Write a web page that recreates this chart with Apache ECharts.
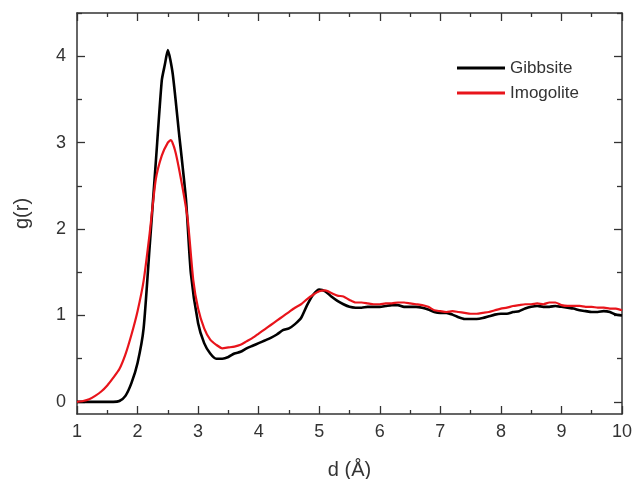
<!DOCTYPE html>
<html>
<head>
<meta charset="utf-8">
<script src="https://cdn.jsdelivr.net/npm/echarts@6/dist/echarts.min.js"></script>
<style>html,body{margin:0;padding:0;background:#fff;}#c{width:632px;height:479px;}</style>
</head>
<body>
<div id="c"></div>
<script>
const gibbsiteX = [1.0,1.1,1.2,1.3,1.4,1.5,1.6,1.7,1.8,1.9,2.0,2.1,2.2,2.3,2.4,2.45,2.5,2.58,2.68,2.8,2.88,3.0,3.1,3.2,3.3,3.4,3.5,3.6,3.7,3.8,3.9,4.0,4.1,4.2,4.3,4.4,4.5,4.6,4.7,4.8,4.9,5.0,5.1,5.2,5.3,5.4,5.5,5.6,5.7,5.8,5.9,6.0,6.1,6.2,6.3,6.4,6.5,6.6,6.7,6.8,6.9,7.0,7.1,7.2,7.3,7.4,7.5,7.6,7.7,7.8,7.9,8.0,8.1,8.2,8.3,8.4,8.5,8.6,8.7,8.8,8.9,9.0,9.1,9.2,9.3,9.4,9.5,9.6,9.7,9.8,9.9,10.0];
const gibbsiteY = [0,0,0,0,0,0,0,0.01,0.07,0.22,0.45,0.85,1.80,2.76,3.72,3.9,4.07,3.80,3.14,2.34,1.49,0.91,0.68,0.56,0.50,0.50,0.52,0.56,0.58,0.62,0.65,0.68,0.71,0.74,0.78,0.83,0.85,0.90,0.97,1.12,1.24,1.30,1.28,1.22,1.17,1.13,1.10,1.09,1.09,1.10,1.10,1.10,1.11,1.12,1.12,1.10,1.10,1.10,1.09,1.07,1.04,1.03,1.03,1.01,0.98,0.96,0.96,0.96,0.97,0.99,1.01,1.02,1.02,1.04,1.05,1.08,1.10,1.11,1.10,1.10,1.11,1.10,1.09,1.08,1.06,1.05,1.04,1.04,1.05,1.04,1.01,1.00];
const imogoliteX = [1.0,1.1,1.2,1.3,1.4,1.5,1.6,1.7,1.8,1.9,2.0,2.1,2.2,2.3,2.4,2.5,2.55,2.63,2.75,2.83,2.92,3.0,3.1,3.2,3.3,3.4,3.5,3.6,3.7,3.8,3.9,4.0,4.1,4.2,4.3,4.4,4.5,4.6,4.7,4.8,4.9,5.0,5.1,5.2,5.3,5.4,5.5,5.6,5.7,5.8,5.9,6.0,6.1,6.2,6.3,6.4,6.5,6.6,6.7,6.8,6.9,7.0,7.1,7.2,7.3,7.4,7.5,7.6,7.7,7.8,7.9,8.0,8.1,8.2,8.3,8.4,8.5,8.6,8.7,8.8,8.9,9.0,9.1,9.2,9.3,9.4,9.5,9.6,9.7,9.8,9.9,10.0];
const imogoliteY = [0,0.01,0.03,0.07,0.12,0.19,0.28,0.38,0.55,0.78,1.05,1.40,1.95,2.57,2.85,3.0,3.03,2.88,2.45,2.1,1.41,1.08,0.85,0.72,0.66,0.62,0.63,0.64,0.66,0.70,0.74,0.79,0.84,0.89,0.94,0.99,1.04,1.09,1.13,1.19,1.24,1.28,1.29,1.26,1.23,1.22,1.18,1.15,1.15,1.14,1.13,1.13,1.14,1.14,1.15,1.15,1.14,1.13,1.12,1.10,1.06,1.05,1.04,1.05,1.04,1.03,1.02,1.02,1.03,1.04,1.06,1.08,1.09,1.11,1.12,1.13,1.13,1.14,1.13,1.15,1.15,1.12,1.11,1.11,1.11,1.10,1.10,1.09,1.09,1.08,1.08,1.06];
const yMajorTicks = [0,1,2,3,4];
const yMinorTicks = [0.5,1.5,2.5,3.5,4.5];
const seriesNames = ['Gibbsite','Imogolite'];

const FONT = 'Liberation Sans';
const axisColor = '#333';
const textColor = '#333';
const yMin = -0.14, yMax = 4.5;

function pairs(xs, ys){ return xs.map((x,i)=>[x, ys[i]]); }

const chart = echarts.init(document.getElementById('c'));
const baseX = {type:'value', min:1, max:10, interval:1, gridIndex:0};
const baseY = {type:'value', min:yMin, max:yMax, gridIndex:0};
function yAxisFrame(pos, showLine, values, len, withLabels){
  return Object.assign({}, baseY, {
    position:pos,
    axisLine:{show:showLine, onZero:false, lineStyle:{color:axisColor, width:1.5}},
    axisTick:{show:true, inside:true, length:len, customValues:values, lineStyle:{color:axisColor, width:1.3}},
    axisLabel:withLabels
      ? {fontFamily:FONT, fontSize:18, color:textColor, margin:11, customValues:values}
      : {show:false, customValues:values},
    splitLine:{show:false}
  });
}
const yLeft = yAxisFrame('left', true, yMajorTicks, 8, true);
yLeft.name = 'g(r)';
yLeft.nameLocation = 'middle';
yLeft.nameGap = 45;
yLeft.nameRotate = 90;
yLeft.nameTextStyle = {fontFamily:FONT, fontSize:20, color:textColor};

chart.setOption({
  animation:false,
  backgroundColor:'#fff',
  grid:{left:77, right:10, top:13, bottom:65, containLabel:false, outerBoundsMode:'none'},
  legend:{
    data:seriesNames, orient:'vertical', left:452, top:53, icon:'rect',
    itemWidth:48, itemHeight:3, itemGap:5,
    textStyle:{fontFamily:FONT, fontSize:17, color:textColor, lineHeight:20}
  },
  xAxis:[
    Object.assign({}, baseX, {
      position:'bottom',
      name:'d (Å)', nameLocation:'middle', nameGap:46,
      nameTextStyle:{fontFamily:FONT, fontSize:20, color:textColor},
      axisLine:{onZero:false, lineStyle:{color:axisColor, width:1.5}},
      axisTick:{inside:true, length:8, lineStyle:{color:axisColor, width:1.3}},
      minorTick:{show:true, splitNumber:2, length:4, lineStyle:{color:axisColor, width:1.3}},
      axisLabel:{fontFamily:FONT, fontSize:18, color:textColor, margin:9},
      splitLine:{show:false}
    }),
    Object.assign({}, baseX, {
      position:'top',
      axisLine:{onZero:false, lineStyle:{color:axisColor, width:1.5}},
      axisTick:{inside:true, length:8, lineStyle:{color:axisColor, width:1.3}},
      minorTick:{show:true, splitNumber:2, length:4, lineStyle:{color:axisColor, width:1.3}},
      axisLabel:{show:false},
      splitLine:{show:false}
    })
  ],
  yAxis:[
    yLeft,
    yAxisFrame('left', false, yMinorTicks, 5, false),
    yAxisFrame('right', true, yMajorTicks, 8, false),
    yAxisFrame('right', false, yMinorTicks, 5, false)
  ],
  series:[
    {name:seriesNames[0], type:'line', xAxisIndex:0, yAxisIndex:0, data:pairs(gibbsiteX, gibbsiteY),
     showSymbol:false, smooth:0.2, lineStyle:{color:'#000', width:2.6}, itemStyle:{color:'#000'}},
    {name:seriesNames[1], type:'line', xAxisIndex:0, yAxisIndex:0, data:pairs(imogoliteX, imogoliteY),
     showSymbol:false, smooth:0.2, lineStyle:{color:'#e8141b', width:2.2}, itemStyle:{color:'#e8141b'}}
  ]
});
</script>
</body>
</html>
